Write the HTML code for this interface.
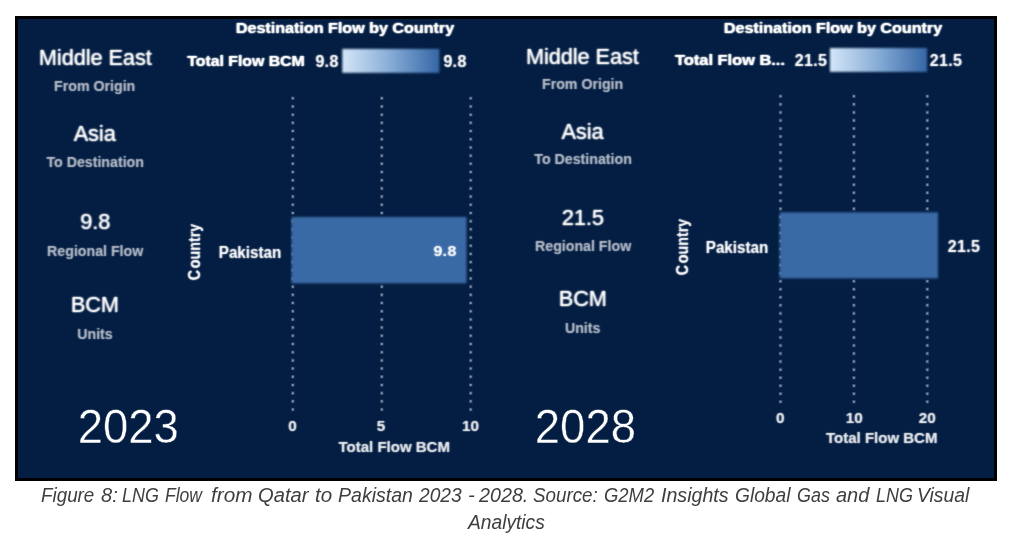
<!DOCTYPE html>
<html>
<head>
<meta charset="utf-8">
<style>
html,body{margin:0;padding:0;background:#fff;}
body{width:1011px;height:538px;position:relative;overflow:hidden;font-family:"Liberation Sans",sans-serif;font-size:14px;line-height:1;}
#frame{position:absolute;left:15px;top:16px;width:976px;height:459px;border:3px solid #000;background:#041e43;box-sizing:content-box;}
#inner{position:absolute;left:0;top:0;width:1011px;height:538px;filter:blur(0.8px);}
#shapes{position:absolute;left:0;top:0;}
.t{position:absolute;white-space:nowrap;line-height:1;transform:translate(-50%,-50%);color:transparent;text-shadow:0 0 1.25px #fff,0 0 1.25px rgba(255,255,255,0.45);}
.big{font-size:21.6px;text-shadow:0.22px 0 1.6px #fff,-0.22px 0 1.6px rgba(255,255,255,0.8);}
.sub{font-size:14.2px;font-weight:bold;text-shadow:0 0 1.3px #b4bbc7,0 0 1.3px rgba(180,187,199,0.35);}
.b{font-size:14.9px;font-weight:bold;transform:translate(-50%,-50%) scale(1.02,1.10);}
.ttl{font-size:14px;font-weight:bold;text-shadow:0.25px 0 1.3px #fff,-0.25px 0 1.3px #fff;transform:translate(-50%,-50%) scaleX(1.15);}
.lgl{font-size:14.2px;font-weight:bold;text-shadow:0.25px 0 1.3px #fff,-0.25px 0 1.3px #fff;transform:translate(-50%,-50%) scaleX(1.115);}
.lgl2{font-size:14.2px;font-weight:bold;text-shadow:0.25px 0 1.3px #fff,-0.25px 0 1.3px #fff;transform:translate(-50%,-50%) scaleX(1.155);}
.num{font-size:14.5px;font-weight:bold;letter-spacing:0.3px;transform:translate(-50%,-50%) scale(1.1,1.12);}
.ax{font-size:15.2px;font-weight:bold;text-shadow:0 0 1.25px #e9ecf0,0 0 1.25px rgba(233,236,240,0.5);}
.axl{font-size:15px;font-weight:bold;text-shadow:0 0 1.25px #e9ecf0,0 0 1.25px rgba(233,236,240,0.5);}
.year{font-size:45.5px;color:#fff;text-shadow:none;-webkit-text-stroke:0.45px #041e43;transform:translate(-50%,-50%) scale(1.0,1.07);}
.rot{position:absolute;white-space:nowrap;line-height:1;color:transparent;text-shadow:0 0 1.2px #fff,0 0 1.2px rgba(255,255,255,0.55);font-size:15px;font-weight:bold;letter-spacing:0px;transform:translate(-50%,-50%) rotate(-90deg) scale(0.95,1.14);}
#cap{position:absolute;left:0;top:0;width:1011px;height:538px;}
.w{position:absolute;white-space:nowrap;font-style:italic;color:#3e3e3e;font-size:19.4px;line-height:24px;transform-origin:0 0;}
</style>
</head>
<body>
<div id="frame"></div>
<svg id="gridsvg" style="position:absolute;left:0;top:0;" width="1011" height="538" viewBox="0 0 1011 538">
<line x1="292.8" y1="96.5" x2="292.8" y2="411.32" stroke="#b4bccb" stroke-opacity="0.22" stroke-width="3.6" stroke-dasharray="3.6 4.59"/><line x1="292.8" y1="97.3" x2="292.8" y2="410.52" stroke="#b4bccb" stroke-opacity="0.62" stroke-width="2" stroke-dasharray="2 6.19"/>
<line x1="381.8" y1="96.5" x2="381.8" y2="411.32" stroke="#b4bccb" stroke-opacity="0.22" stroke-width="3.6" stroke-dasharray="3.6 4.59"/><line x1="381.8" y1="97.3" x2="381.8" y2="410.52" stroke="#b4bccb" stroke-opacity="0.62" stroke-width="2" stroke-dasharray="2 6.19"/>
<line x1="470.7" y1="96.5" x2="470.7" y2="411.32" stroke="#b4bccb" stroke-opacity="0.22" stroke-width="3.6" stroke-dasharray="3.6 4.59"/><line x1="470.7" y1="97.3" x2="470.7" y2="410.52" stroke="#b4bccb" stroke-opacity="0.62" stroke-width="2" stroke-dasharray="2 6.19"/>
<line x1="780.5" y1="94.5" x2="780.5" y2="403.62" stroke="#b4bccb" stroke-opacity="0.22" stroke-width="3.6" stroke-dasharray="3.6 4.44"/><line x1="780.5" y1="95.3" x2="780.5" y2="402.82" stroke="#b4bccb" stroke-opacity="0.62" stroke-width="2" stroke-dasharray="2 6.04"/>
<line x1="853.9" y1="94.5" x2="853.9" y2="403.62" stroke="#b4bccb" stroke-opacity="0.22" stroke-width="3.6" stroke-dasharray="3.6 4.44"/><line x1="853.9" y1="95.3" x2="853.9" y2="402.82" stroke="#b4bccb" stroke-opacity="0.62" stroke-width="2" stroke-dasharray="2 6.04"/>
<line x1="927.3" y1="94.5" x2="927.3" y2="403.62" stroke="#b4bccb" stroke-opacity="0.22" stroke-width="3.6" stroke-dasharray="3.6 4.44"/><line x1="927.3" y1="95.3" x2="927.3" y2="402.82" stroke="#b4bccb" stroke-opacity="0.62" stroke-width="2" stroke-dasharray="2 6.04"/>
</svg>
<div id="inner">
<svg id="shapes" width="1011" height="538" viewBox="0 0 1011 538">
<defs><linearGradient id="g" x1="0" x2="1" y1="0" y2="0"><stop offset="0" stop-color="#d4e6f8"/><stop offset="0.5" stop-color="#86acd6"/><stop offset="1" stop-color="#3566a5"/></linearGradient></defs>
<rect x="291.5" y="217" width="175" height="66.3" fill="#3a6aa6"/>
<rect x="779.7" y="212.4" width="158.3" height="65.9" fill="#3a6aa6"/>
<rect x="342.3" y="48.9" width="97.1" height="23.9" fill="url(#g)"/>
<rect x="829.9" y="48" width="97.2" height="23.9" fill="url(#g)"/>
</svg>
</div>
<div id="texts" style="position:absolute;left:0;top:0;width:1011px;height:538px;">
<div class="t ttl" id="l_title" style="left:345.2px;top:28px;">Destination Flow by Country</div>
<div class="t big" id="l_me" style="left:95.3px;top:57.8px;">Middle East</div>
<div class="t sub" id="l_fo" style="left:94.7px;top:85.7px;">From Origin</div>
<div class="t big" id="l_asia" style="left:94.7px;top:134.3px;">Asia</div>
<div class="t sub" id="l_td" style="left:95.2px;top:161.9px;">To Destination</div>
<div class="t big" id="l_val" style="left:95.2px;top:222.4px;">9.8</div>
<div class="t sub" id="l_rf" style="left:95.2px;top:251.3px;">Regional Flow</div>
<div class="t big" id="l_bcm" style="left:94.9px;top:304.8px;">BCM</div>
<div class="t sub" id="l_un" style="left:95px;top:333.7px;">Units</div>
<div class="t lgl" id="l_lg" style="left:246.4px;top:61.0px;">Total Flow BCM</div>
<div class="t num" id="l_lg1" style="left:327.0px;top:61.9px;">9.8</div>
<div class="t num" id="l_lg2" style="left:454.8px;top:61.9px;">9.8</div>
<div class="t b" id="l_pk" style="left:249.6px;top:253.1px;">Pakistan</div>
<div class="t num" id="l_bv" style="left:444.7px;top:250.7px;transform:translate(-50%,-50%) scale(1.1,1.06);">9.8</div>
<div class="rot" id="l_cty" style="left:194.0px;top:252.3px;"><span style="letter-spacing:1.8px">C</span>ountry</div>
<div class="t ax" id="l_x0" style="left:292.5px;top:426.0px;">0</div>
<div class="t ax" id="l_x1" style="left:381.1px;top:426.0px;">5</div>
<div class="t ax" id="l_x2" style="left:470.5px;top:426.0px;">10</div>
<div class="t axl" id="l_xl" style="left:394.2px;top:445.9px;">Total Flow BCM</div>
<div class="t ttl" id="r_title" style="left:833.2px;top:27.6px;">Destination Flow by Country</div>
<div class="t big" id="r_me" style="left:582.4px;top:57.4px;">Middle East</div>
<div class="t sub" id="r_fo" style="left:582.6px;top:84.4px;">From Origin</div>
<div class="t big" id="r_asia" style="left:582.5px;top:132.2px;">Asia</div>
<div class="t sub" id="r_td" style="left:583.1px;top:159.1px;">To Destination</div>
<div class="t big" id="r_val" style="left:582.9px;top:218.0px;">21.5</div>
<div class="t sub" id="r_rf" style="left:583.1px;top:246.0px;">Regional Flow</div>
<div class="t big" id="r_bcm" style="left:582.8px;top:299.0px;">BCM</div>
<div class="t sub" id="r_un" style="left:582.7px;top:327.6px;">Units</div>
<div class="t lgl2" id="r_lg" style="left:730.2px;top:60.1px;">Total Flow B...</div>
<div class="t num" id="r_lg1" style="left:811.3px;top:61.0px;">21.5</div>
<div class="t num" id="r_lg2" style="left:946.3px;top:61.0px;">21.5</div>
<div class="t b" id="r_pk" style="left:737.4px;top:248.3px;">Pakistan</div>
<div class="t num" id="r_bv" style="left:964.2px;top:246.8px;">21.5</div>
<div class="rot" id="r_cty" style="left:681.9px;top:247.4px;"><span style="letter-spacing:1.8px">C</span>ountry</div>
<div class="t ax" id="r_x0" style="left:780.3px;top:418.2px;">0</div>
<div class="t ax" id="r_x1" style="left:854.2px;top:418.2px;">10</div>
<div class="t ax" id="r_x2" style="left:927.2px;top:418.2px;">20</div>
<div class="t axl" id="r_xl" style="left:881.7px;top:437.4px;">Total Flow BCM</div>
</div>
<div id="sharp" style="position:absolute;left:0;top:0;width:1011px;height:538px;filter:blur(0.35px);">
<div class="t year" id="l_year" style="left:128.3px;top:427.0px;">2023</div>
<div class="t year" id="r_year" style="left:585.4px;top:427.0px;">2028</div>
</div>
<div id="cap">
<span class="w" id="w0" style="left:41.33px;top:482.7px;transform:scaleX(0.970)">Figure</span>
<span class="w" id="w1" style="left:100.56px;top:482.7px;transform:scaleX(1.036)">8:</span>
<span class="w" id="w2" style="left:122.47px;top:482.7px;transform:scaleX(0.926)">LNG</span>
<span class="w" id="w3" style="left:165.20px;top:482.7px;transform:scaleX(0.902)">Flow</span>
<span class="w" id="w4" style="left:211.23px;top:482.7px;transform:scaleX(1.068)">from</span>
<span class="w" id="w5" style="left:258.26px;top:482.7px;transform:scaleX(1.040)">Qatar</span>
<span class="w" id="w6" style="left:314.64px;top:482.7px;transform:scaleX(1.060)">to</span>
<span class="w" id="w7" style="left:338.49px;top:482.7px;transform:scaleX(1.008)">Pakistan</span>
<span class="w" id="w8" style="left:419.00px;top:482.7px;transform:scaleX(0.991)">2023</span>
<span class="w" id="w9" style="left:468.04px;top:482.7px;transform:scaleX(1.060)">-</span>
<span class="w" id="w10" style="left:479.40px;top:482.7px;transform:scaleX(1.017)">2028.</span>
<span class="w" id="w11" style="left:533.23px;top:482.7px;transform:scaleX(0.969)">Source:</span>
<span class="w" id="w12" style="left:604.15px;top:482.7px;transform:scaleX(0.950)">G2M2</span>
<span class="w" id="w13" style="left:661.29px;top:482.7px;transform:scaleX(1.012)">Insights</span>
<span class="w" id="w14" style="left:734.51px;top:482.7px;transform:scaleX(0.989)">Global</span>
<span class="w" id="w15" style="left:797.48px;top:482.7px;transform:scaleX(0.924)">Gas</span>
<span class="w" id="w16" style="left:836.30px;top:482.7px;transform:scaleX(1.030)">and</span>
<span class="w" id="w17" style="left:875.77px;top:482.7px;transform:scaleX(0.926)">LNG</span>
<span class="w" id="w18" style="left:917.40px;top:482.7px;transform:scaleX(0.998)">Visual</span>
<span class="w" id="w19" style="left:467.69px;top:510.0px;transform:scaleX(0.990)">Analytics</span>
</div>
</body>
</html>
